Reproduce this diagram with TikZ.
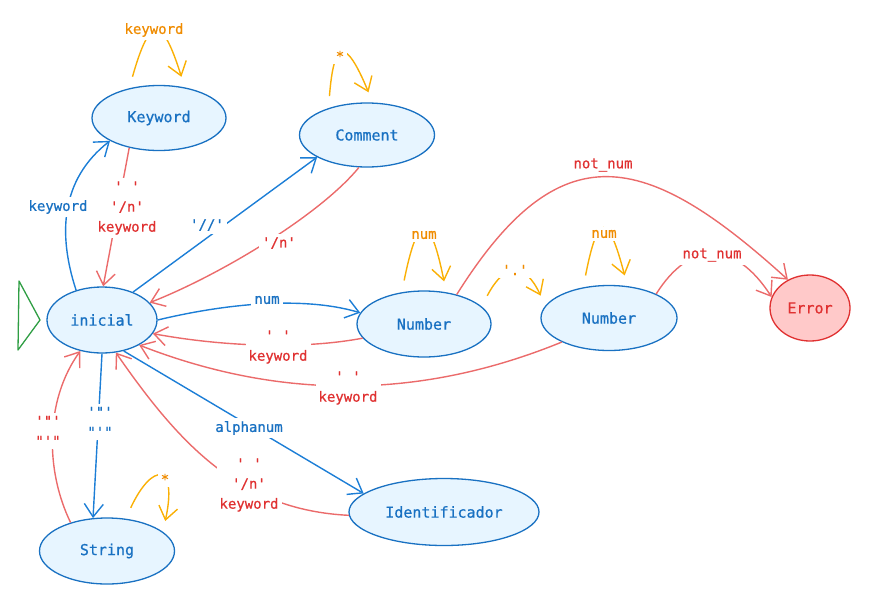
\documentclass[tikz,border=0pt]{standalone}
\usepackage{fontspec}
\newfontfamily\monof{DejaVu Sans Mono}[Ligatures=TeXOff,FakeBold=0.7]
\usetikzlibrary{arrows.meta,shapes.geometric}
\definecolor{nblue}{HTML}{1971C2}
\definecolor{nfill}{HTML}{E7F5FF}
\definecolor{nred}{HTML}{E03131}
\definecolor{efill}{HTML}{FFC9C9}
\definecolor{redE}{HTML}{EB6B6B}
\definecolor{blueE}{HTML}{1C7ED6}
\definecolor{oline}{HTML}{FAB005}
\definecolor{otext}{HTML}{F08C00}
\definecolor{sgreen}{HTML}{2F9E44}
\begin{document}
\begin{tikzpicture}[x=1pt,y=-1pt,
 state/.style={ellipse, draw=nblue, fill=nfill, line width=1.3pt, text=nblue, inner sep=0pt,
   font=\monof\fontsize{15}{18}\selectfont},
 lbl/.style={fill=white, inner sep=3pt, font=\monof\fontsize{14}{20}\selectfont, align=center},
 bl/.style={lbl, text=nblue},
 rl/.style={lbl, text=nred},
 ol/.style={lbl, text=otext},
 tr/.style={-{Straight Barb[length=13pt,width=19pt]}, line width=1.4pt},
 btr/.style={tr, draw=blueE},
 rtr/.style={tr, draw=redE},
 otr/.style={tr, draw=oline, shorten <=12pt, shorten >=11pt},
]
\useasboundingbox (0,0) rectangle (872,608);

% states
\node[state, minimum width=134pt, minimum height=65pt] (kw) at (159,118) {Keyword};
\node[state, minimum width=135pt, minimum height=64pt] (cm) at (367,135) {Comment};
\node[state, minimum width=110pt, minimum height=66pt] (ini) at (102,320) {inicial};
\node[state, minimum width=134pt, minimum height=66pt] (n1) at (424,324) {Number};
\node[state, minimum width=136pt, minimum height=65pt] (n2) at (609,318) {Number};
\node[state, draw=nred, fill=efill, text=nred, minimum width=80pt, minimum height=66pt] (err) at (810,308) {Error};
\node[state, minimum width=135pt, minimum height=66pt] (str) at (107,551) {String};
\node[state, minimum width=190pt, minimum height=67pt] (id) at (444,512) {Identificador};

% start marker
\draw[sgreen, line width=1.3pt, line join=round] (19,281) -- (40,320) -- (18,350) -- cycle;

% transitions
\draw[btr] (ini.131) .. controls (58,235) and (60,180) .. (kw.205);
\draw[rtr] (kw.225) -- (ini.88);
\draw[btr] (ini.42) -- (cm.204);
\draw[rtr] (cm.256) .. controls (320,215) and (220,275) .. (ini.20);
\draw[btr] (ini.east) .. controls (220,305) and (300,295) .. (n1.170);
\draw[rtr] (n1.193) .. controls (300,350) and (220,346) .. (ini.345);
\draw[rtr] (n2.207) .. controls (420,400) and (280,400) .. (ini.326);
\draw[btr] (ini.305) -- (id.167);
\draw[rtr] (id.182) .. controls (240,510) and (180,445) .. (ini.293);
\draw[btr] (ini.south) -- (str.113);
\draw[rtr] (str.142) .. controls (45,470) and (45,400) .. (ini.235);
\draw[otr] (n1.17) .. controls (505,262) and (525,262) .. (n2.169);
\draw[rtr] (n1.42) .. controls (560,130) and (645,150) .. (err.128);
\draw[rtr] (n2.27) .. controls (690,240) and (735,240) .. (err.164);

% self loops
\draw[otr] (kw.135) .. controls (150,15) and (162,15) .. (kw.50);
\draw[otr] (cm.145) .. controls (334,38) and (346,38) .. (cm.80);
\draw[otr] (n1.125) .. controls (418,212) and (430,212) .. (n1.55);
\draw[otr] (n2.130) .. controls (598,212) and (608,212) .. (n2.60);
\draw[otr] (str.60) .. controls (152,462) and (178,462) .. (str.19);

% labels
\node[bl] (l1) at (58,207) {keyword};
\node[rl] (l2) at (127,208) {' '\\'/n'\\keyword};
\node[bl] (l3) at (207,225) {'//'};
\node[rl] (l4) at (279,243) {'/n'};
\node[bl] (l5) at (267,300) {num};
\node[rl] (l6) at (278,347) {' '\\keyword};
\node[rl] (l7) at (348,388) {' '\\keyword};
\node[bl] (l8) at (249,428) {alphanum};
\node[rl] (l9) at (249,485) {' '\\'/n'\\keyword};
\node[bl] (l10) at (100,422) {'"'\\"'"};
\node[rl] (l11) at (48,431) {'"'\\"'"};
\node[ol] (l12) at (515,270) {'.'};
\node[rl] (l13) at (603,165) {not\_num};
\node[rl] (l14) at (712,255) {not\_num};
\node[ol] (l15) at (154,30) {keyword};
\node[ol] (l16) at (340,56) {*};
\node[ol] (l17) at (424,235) {num};
\node[ol] (l18) at (604,234) {num};
\node[ol] (l19) at (165,479) {*};
\end{tikzpicture}
\end{document}
